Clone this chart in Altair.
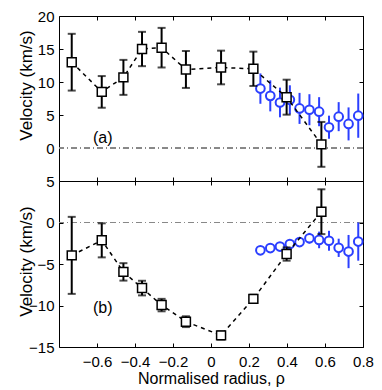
import altair as alt
import pandas as pd

# ---- data ----
rho_black = [-0.733, -0.575, -0.461, -0.363, -0.260, -0.132, 0.053, 0.223, 0.398, 0.581]
va_black = [13.0, 8.5, 10.7, 15.0, 15.2, 11.9, 12.2, 12.0, 7.7, 0.55]
va_black_err = [4.3, 2.4, 2.65, 2.6, 3.0, 2.8, 2.55, 2.6, 2.65, 3.4]
vb_black = [-3.96, -2.15, -5.95, -7.9, -9.95, -11.95, -13.6, -9.2, -3.8, 1.3]
vb_black_err = [4.64, 2.05, 1.05, 0.88, 0.75, 0.65, 0.5, 0.5, 0.8, 2.7]

rho_blue = [0.26, 0.312, 0.363, 0.415, 0.466, 0.518, 0.569, 0.621, 0.672, 0.724, 0.775]
va_blue = [9.0, 7.9, 6.9, 7.3, 6.0, 5.8, 5.5, 3.15, 4.75, 3.65, 4.9]
va_blue_err = [2.3, 2.35, 2.25, 2.2, 2.35, 2.35, 2.2, 1.75, 2.2, 2.5, 3.35]
vb_blue = [-3.35, -3.08, -2.9, -2.6, -2.36, -1.9, -2.1, -2.2, -3.05, -3.5, -2.3]
vb_blue_err = [0.3, 0.3, 0.3, 0.3, 0.35, 0.65, 1.0, 1.2, 1.1, 2.0, 2.3]

x_ticks = [-0.6, -0.4, -0.2, 0, 0.2, 0.4, 0.6, 0.8]
ya_ticks = [0, 5, 10, 15, 20]
ya_frame_ticks = [-5, 0, 5, 10, 15, 20]
yb_ticks = [-15, -10, -5, 0, 5]

panel_labels = ["(a)", "(b)"]
label_x = [-0.57, -0.57]
label_y = [1.55, -10.3]

BLUE = "#2b3fff"
FONT = "Liberation Sans"


def make_df(x, v, e):
    return pd.DataFrame({"x": x, "v": v,
                         "lo": [a - b for a, b in zip(v, e)],
                         "hi": [a + b for a, b in zip(v, e)]})


def panel(dfk, dfb, ydom, yticks, yframe, lab, lx, ly, height, bottom, title_y):
    xs = alt.Scale(domain=[-0.8, 0.8], nice=False, zero=False)
    ys = alt.Scale(domain=ydom, nice=False, zero=False)
    xax = alt.Axis(orient="bottom", values=x_ticks, format="~g", labels=bottom,
                   domain=False, offset=-4, tickSize=4, tickColor="black",
                   labelFontSize=15, labelPadding=7, labelFlush=False, labelOverlap=False,
                   labelColor="black",
                   titleFontSize=16, titleFontWeight="normal", titlePadding=1,
                   titleColor="black", grid=False)
    yax = alt.Axis(orient="left", values=yticks, format="~g",
                   domain=False, offset=-4, tickSize=4,
                   tickColor="black", labelFontSize=15, labelPadding=5, labelOverlap=False,
                   labelColor="black", titleFontSize=17, titleFontWeight="normal",
                   titleColor="black", titleAngle=270, titleAlign="center",
                   titleBaseline="middle", titleX=-37, titleY=title_y, grid=False)
    if bottom:
        X = alt.X("x:Q", scale=xs, axis=xax, title="Normalised radius, ρ")
    else:
        X = alt.X("x:Q", scale=xs, axis=xax, title=None)
    Y = alt.Y("v:Q", scale=ys, axis=yax, title="Velocity (km/s)")
    Ylo = alt.Y("lo:Q", scale=ys, axis=yax, title="Velocity (km/s)")
    Yhi = alt.Y("hi:Q", scale=ys, axis=yax, title="Velocity (km/s)")

    zero = alt.Chart(dfk).mark_rule(color="#888888", strokeWidth=1,
                                    strokeDash=[6, 3, 1, 3]).encode(y=alt.datum(0))
    b_err = alt.Chart(dfb).mark_rule(color=BLUE, strokeWidth=2).encode(
        x=X, y=Ylo, y2="hi:Q")
    b_pts = alt.Chart(dfb).mark_point(shape="circle", size=75, filled=False,
                                      color=BLUE, fill="white", fillOpacity=1,
                                      strokeWidth=2, opacity=1).encode(x=X, y=Y)
    k_line = alt.Chart(dfk).mark_line(color="black", strokeWidth=1.5,
                                      strokeDash=[4, 4]).encode(x=X, y=Y)
    k_err = alt.Chart(dfk).mark_rule(color="black", strokeWidth=2).encode(
        x=X, y=Ylo, y2="hi:Q")
    k_cap_lo = alt.Chart(dfk).mark_tick(orient="horizontal", size=8, thickness=2,
                                        color="black").encode(x=X, y=Ylo)
    k_cap_hi = alt.Chart(dfk).mark_tick(orient="horizontal", size=8, thickness=2,
                                        color="black").encode(x=X, y=Yhi)
    k_pts = alt.Chart(dfk).mark_point(shape="square", size=80, filled=False,
                                      color="black", fill="white", fillOpacity=1,
                                      strokeWidth=1.5, opacity=1).encode(x=X, y=Y)
    txt = alt.Chart(pd.DataFrame({"x": [lx], "v": [ly], "t": [lab]})).mark_text(
        font=FONT, fontSize=16, color="black").encode(x=X, y=Y, text="t:N")

    main = alt.layer(zero, b_err, b_pts, k_line, k_err, k_cap_lo, k_cap_hi, k_pts, txt)

    frame = alt.Chart(dfk).mark_point(opacity=0).encode(
        x=alt.X("x:Q", scale=xs, title=None,
                axis=alt.Axis(orient="top", values=x_ticks, labels=False,
                              domain=False, offset=-4,
                              tickSize=4, tickColor="black", grid=False)),
        y=alt.Y("v:Q", scale=ys, title=None,
                axis=alt.Axis(orient="right", values=yframe, labels=False,
                              domain=False, offset=-4,
                              tickSize=4, tickColor="black", grid=False)))
    return alt.layer(main, frame).resolve_axis(x="independent", y="independent").properties(
        width=304, height=height)


top = panel(make_df(rho_black, va_black, va_black_err), make_df(rho_blue, va_blue, va_blue_err),
            [-5, 20], ya_ticks, ya_frame_ticks, panel_labels[0], label_x[0], label_y[0], 165, False, 69)
bot = panel(make_df(rho_black, vb_black, vb_black_err), make_df(rho_blue, vb_blue, vb_blue_err),
            [-15, 5], yb_ticks, yb_ticks, panel_labels[1], label_x[1], label_y[1], 166, True, 80)

chart = alt.vconcat(top, bot, spacing=0, bounds="flush").properties(
    padding={"left": 8, "top": 0, "right": 0, "bottom": 0}
).configure(font=FONT).configure_view(stroke="black", strokeWidth=1)

chart.save("out.html", embed_options={"renderer": "svg", "actions": False})
